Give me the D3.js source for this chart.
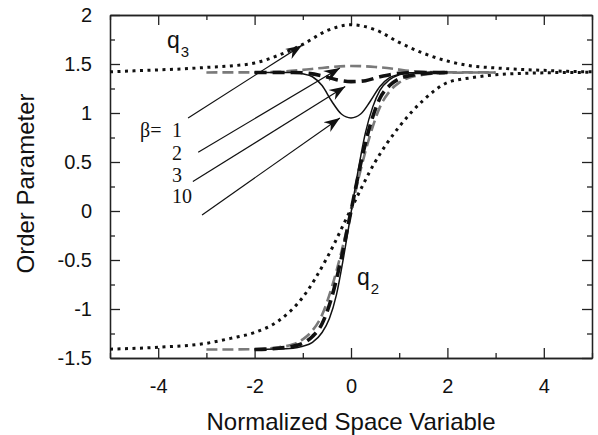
<!DOCTYPE html>
<html>
<head>
<meta charset="utf-8">
<script src="https://cdn.jsdelivr.net/npm/d3@7"></script>
<style>
  body { margin: 0; background: #fff; }
  svg { display: block; }
  .axis path, .axis line { stroke: #222; stroke-width: 1.3; }
  .axis text { font-family: "Liberation Sans", Arial, sans-serif; font-size: 20px; fill: #111; }
  .title { font-family: "Liberation Sans", Arial, sans-serif; font-size: 24px; fill: #111; }
  .qlab { font-family: "Liberation Sans", Arial, sans-serif; fill: #111; }
  .blab { font-family: "Liberation Serif", "Times New Roman", serif; font-size: 20px; fill: #111; }
  .curve { fill: none; }
</style>
</head>
<body>
<svg width="598" height="435"></svg>
<script>
var svg = d3.select("svg"),
    margin = {left: 110, right: 6, top: 15, bottom: 77},
    width = 598 - margin.left - margin.right,
    height = 435 - margin.top - margin.bottom;

// tick values
var xMajor = [-4, -2, 0, 2, 4],
    xMinor = [-5, -3, -1, 1, 3, 5],
    yMajor = [-1.5, -1, -0.5, 0, 0.5, 1, 1.5, 2],
    yMinor = [-1.25, -0.75, -0.25, 0.25, 0.75, 1.25, 1.75];

// beta = 1 (dotted)
var q3b1 = [[-5, 1.42], [-4.5, 1.43], [-4, 1.44], [-3.5, 1.45], [-3, 1.465], [-2.5, 1.48], [-2, 1.51],
            [-1.5, 1.59], [-1, 1.70], [-0.5, 1.84], [0, 1.90], [0.5, 1.85], [1, 1.72], [1.5, 1.61],
            [2, 1.53], [2.5, 1.48], [3, 1.46], [3.5, 1.445], [4, 1.435], [4.5, 1.425], [5, 1.42]];
var q2b1 = [[-5, -1.41], [-4, -1.39], [-3, -1.35], [-2.5, -1.30], [-2, -1.24], [-1.5, -1.12], [-1, -0.88],
            [-0.5, -0.48], [0, 0.02], [0.5, 0.50], [1, 0.86], [1.5, 1.13], [2, 1.31], [2.5, 1.36],
            [3, 1.39], [4, 1.41], [5, 1.415]];

// beta = 2 (grey dashed)
var q3b2 = [[-3, 1.414], [-2, 1.415], [-1.5, 1.42], [-1, 1.44], [-0.6, 1.46], [0, 1.48], [0.5, 1.47],
            [0.9, 1.45], [1.2, 1.43], [1.6, 1.418], [2, 1.415], [3, 1.414]];
var q2b2 = [[-3, -1.414], [-2, -1.41], [-1.5, -1.39], [-1.2, -1.36], [-1, -1.31], [-0.8, -1.22],
            [-0.6, -1.06], [-0.4, -0.78], [-0.2, -0.42], [0, 0], [0.2, 0.42], [0.4, 0.78], [0.6, 1.06],
            [0.8, 1.22], [1, 1.31], [1.2, 1.36], [1.5, 1.39], [2, 1.41], [3, 1.414]];

// beta = 3 (black dashed)
var q3b3 = [[-2, 1.414], [-1.2, 1.413], [-1, 1.41], [-0.6, 1.38], [-0.3, 1.34], [0, 1.32], [0.3, 1.33],
            [0.6, 1.37], [1, 1.405], [1.5, 1.414], [2, 1.414]];
var q2b3 = [[-2, -1.414], [-1.5, -1.40], [-1.2, -1.38], [-1, -1.35], [-0.8, -1.28], [-0.6, -1.15],
            [-0.4, -0.88], [-0.2, -0.48], [0, 0], [0.2, 0.48], [0.4, 0.88], [0.6, 1.15], [0.8, 1.28],
            [1, 1.35], [1.2, 1.38], [1.5, 1.40], [2, 1.414]];

// beta = 10 (solid)
var q3b10 = [[-2, 1.414], [-1.2, 1.413], [-1, 1.40], [-0.8, 1.37], [-0.6, 1.28], [-0.4, 1.12],
             [-0.2, 0.99], [0, 0.95], [0.2, 0.99], [0.4, 1.12], [0.6, 1.27], [0.8, 1.36], [1, 1.395],
             [1.2, 1.41], [2, 1.414]];
var q2b10 = [[-2, -1.414], [-1.2, -1.40], [-1, -1.38], [-0.8, -1.34], [-0.6, -1.24], [-0.45, -1.10],
             [-0.3, -0.85], [-0.15, -0.46], [0, -0.02], [0.15, 0.42], [0.3, 0.80], [0.45, 1.06],
             [0.6, 1.23], [0.8, 1.34], [1, 1.39], [1.2, 1.41], [2, 1.414]];

// arrows from beta labels to curves
var betaLabels = ["1", "2", "3", "10"];
var arrowFrom = [[-3.38, 0.95], [-3.17, 0.60], [-3.28, 0.30], [-3.09, -0.04]],
    arrowTo = [[-1.02, 1.69], [-0.23, 1.46], [-0.12, 1.27], [-0.23, 0.95]];

var x = d3.scaleLinear().domain([-5, 5]).range([0, width]);
var y = d3.scaleLinear().domain([-1.5, 2]).range([height, 0]);

var g = svg.append("g")
    .attr("transform", "translate(" + margin.left + "," + margin.top + ")");

// plain hyphen for negative numbers, like the original
var fmt = function(d) { return d3.format("")(d).replace("\u2212", "-"); };

// axes: major (labelled) and minor ticks, all pointing inward
g.append("g").attr("class", "axis")
    .attr("transform", "translate(0," + height + ")")
    .call(d3.axisBottom(x).tickValues(xMajor).tickSize(-10).tickSizeOuter(0).tickPadding(21).tickFormat(fmt));
g.append("g").attr("class", "axis")
    .attr("transform", "translate(0," + height + ")")
    .call(d3.axisBottom(x).tickValues(xMinor).tickSize(-5).tickSizeOuter(0).tickFormat(""));
g.append("g").attr("class", "axis")
    .call(d3.axisTop(x).tickValues(xMajor).tickSize(-10).tickSizeOuter(0).tickFormat(""));
g.append("g").attr("class", "axis")
    .call(d3.axisTop(x).tickValues(xMinor).tickSize(-5).tickSizeOuter(0).tickFormat(""));

g.append("g").attr("class", "axis")
    .call(d3.axisLeft(y).tickValues(yMajor).tickSize(-10).tickSizeOuter(0).tickPadding(18).tickFormat(fmt));
g.append("g").attr("class", "axis")
    .call(d3.axisLeft(y).tickValues(yMinor).tickSize(-5).tickSizeOuter(0).tickFormat(""));
g.append("g").attr("class", "axis")
    .attr("transform", "translate(" + width + ",0)")
    .call(d3.axisRight(y).tickValues(yMajor).tickSize(-10).tickSizeOuter(0).tickFormat(""));
g.append("g").attr("class", "axis")
    .attr("transform", "translate(" + width + ",0)")
    .call(d3.axisRight(y).tickValues(yMinor).tickSize(-5).tickSizeOuter(0).tickFormat(""));

var line = d3.line()
    .x(function(d) { return x(d[0]); })
    .y(function(d) { return y(d[1]); })
    .curve(d3.curveMonotoneX);

var styles = [
  {data: [q3b1, q2b1], stroke: "#111", width: 3, dash: "3,4.5"},
  {data: [q3b2, q2b2], stroke: "#7a7a7a", width: 2.6, dash: "11,5"},
  {data: [q3b3, q2b3], stroke: "#111", width: 3.6, dash: "12,6"},
  {data: [q3b10, q2b10], stroke: "#111", width: 1.5, dash: null}
];

styles.forEach(function(s) {
  s.data.forEach(function(d) {
    g.append("path")
        .datum(d)
        .attr("class", "curve")
        .attr("stroke", s.stroke)
        .attr("stroke-width", s.width)
        .attr("stroke-dasharray", s.dash)
        .attr("d", line);
  });
});

// arrow head marker
svg.append("defs").append("marker")
    .attr("id", "head")
    .attr("viewBox", "-16 -7 18 14")
    .attr("refX", 0).attr("refY", 0)
    .attr("markerWidth", 18).attr("markerHeight", 14)
    .attr("markerUnits", "userSpaceOnUse")
    .attr("orient", "auto")
  .append("path")
    .attr("d", "M0,0L-16,-6L-11,0L-16,6Z")
    .attr("fill", "#111");

g.selectAll(".arrow")
    .data(arrowFrom)
  .enter().append("line")
    .attr("class", "arrow")
    .attr("x1", function(d) { return x(d[0]); })
    .attr("y1", function(d) { return y(d[1]); })
    .attr("x2", function(d, i) { return x(arrowTo[i][0]); })
    .attr("y2", function(d, i) { return y(arrowTo[i][1]); })
    .attr("stroke", "#111")
    .attr("stroke-width", 1.2)
    .attr("marker-end", "url(#head)");

// beta labels
svg.append("text").attr("class", "blab")
    .attr("x", 140).attr("y", 137)
    .text("\u03b2=");
svg.selectAll(".bnum")
    .data(betaLabels)
  .enter().append("text")
    .attr("class", "blab bnum")
    .attr("x", 172)
    .attr("y", function(d, i) { return [137, 160, 182, 203][i]; })
    .text(function(d) { return d; });

// q labels
function qLabel(px, py, sub) {
  var t = svg.append("text").attr("class", "qlab")
      .attr("x", px).attr("y", py)
      .style("font-size", "23px");
  t.append("tspan").text("q");
  t.append("tspan").attr("dy", 9).attr("dx", 1).style("font-size", "15px").text(sub);
}
qLabel(167, 48, "3");
qLabel(357, 285, "2");

// axis titles
svg.append("text").attr("class", "title")
    .attr("x", margin.left + width / 2)
    .attr("y", 430)
    .attr("text-anchor", "middle")
    .text("Normalized Space Variable");

svg.append("text").attr("class", "title")
    .attr("transform", "translate(34," + (margin.top + height / 2 - 3) + ") rotate(-90)")
    .attr("text-anchor", "middle")
    .text("Order Parameter");
</script>
</body>
</html>
